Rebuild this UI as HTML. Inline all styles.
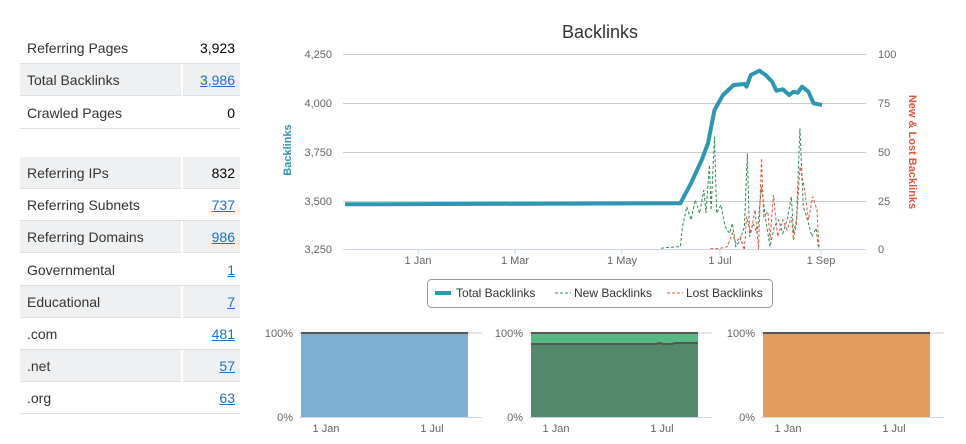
<!DOCTYPE html>
<html><head><meta charset="utf-8"><style>
body{margin:0;width:966px;height:444px;background:#fff;font-family:"Liberation Sans",sans-serif;position:relative;overflow:hidden}
.t{position:absolute;left:20px;width:220px;font-size:14px;color:#333}
.r{position:absolute;left:0;width:220px;height:32px;border-bottom:1px solid #dde0e3;box-sizing:border-box}
.r.g{background:#eef0f2}
.r span{position:absolute;left:7px;top:8px}
.r b{position:absolute;right:5px;top:8px;font-weight:normal;color:#000}
.r b.l{color:#1a6fcf;text-decoration:underline}
.r.g b{border-left:2px solid #fff;height:32px;top:0;line-height:32px;padding-left:0;width:52px;text-align:right}
</style></head><body>
<div class="t">
<div class="r" style="top:32px"><span>Referring Pages</span><b>3,923</b></div>
<div class="r g" style="top:64px"><span>Total Backlinks</span><b class="l">3,986</b></div>
<div class="r" style="top:97px"><span>Crawled Pages</span><b>0</b></div>
<div class="r g" style="top:157px"><span>Referring IPs</span><b>832</b></div>
<div class="r" style="top:189px"><span>Referring Subnets</span><b class="l">737</b></div>
<div class="r g" style="top:221px"><span>Referring Domains</span><b class="l">986</b></div>
<div class="r" style="top:254px"><span>Governmental</span><b class="l">1</b></div>
<div class="r g" style="top:286px"><span>Educational</span><b class="l">7</b></div>
<div class="r" style="top:318px"><span>.com</span><b class="l">481</b></div>
<div class="r g" style="top:350px"><span>.net</span><b class="l">57</b></div>
<div class="r" style="top:382px"><span>.org</span><b class="l">63</b></div>
</div>
<svg width="966" height="444" style="position:absolute;left:0;top:0" font-family="Liberation Sans, sans-serif">
<text x="600" y="38" text-anchor="middle" font-size="18" fill="#333">Backlinks</text>
<g stroke="#ccc" stroke-width="1">
<line x1="343" x2="866" y1="54.5" y2="54.5"/><line x1="343" x2="866" y1="103.5" y2="103.5"/><line x1="343" x2="866" y1="152.5" y2="152.5"/><line x1="343" x2="866" y1="201.5" y2="201.5"/>
</g>
<line x1="343" x2="866" y1="249.5" y2="249.5" stroke="#ccd6eb"/>
<g stroke="#ccd6eb"><line x1="418" x2="418" y1="249" y2="255"/><line x1="515" x2="515" y1="249" y2="255"/><line x1="622" x2="622" y1="249" y2="255"/><line x1="720" x2="720" y1="249" y2="255"/><line x1="821" x2="821" y1="249" y2="255"/></g>
<g font-size="11" fill="#666">
<g text-anchor="end"><text x="332" y="58">4,250</text><text x="332" y="107">4,000</text><text x="332" y="156">3,750</text><text x="332" y="205">3,500</text><text x="332" y="253">3,250</text></g>
<text x="878" y="58">100</text><text x="878" y="107">75</text><text x="878" y="156">50</text><text x="878" y="205">25</text><text x="878" y="253">0</text>
<g text-anchor="middle"><text x="418" y="264">1 Jan</text><text x="515" y="264">1 Mar</text><text x="622" y="264">1 May</text><text x="720" y="264">1 Jul</text><text x="821" y="264">1 Sep</text></g>
</g>
<text transform="translate(291,150) rotate(-90)" text-anchor="middle" font-size="11" font-weight="bold" fill="#2d96b2">Backlinks</text>
<text transform="translate(909,152) rotate(90)" text-anchor="middle" font-size="11" font-weight="bold" fill="#e0573c">New &amp; Lost Backlinks</text>
<g transform="translate(274.7,20) scale(0.427,0.3333)" fill="none">
<polyline vector-effect="non-scaling-stroke" stroke="#2e8b57" stroke-width="1" stroke-dasharray="3,2" points="905,685 915,683 950,680 955,620 965,560 975,600 985,540 995,580 1005,510 1010,580 1018,435 1022,570 1030,350 1035,580 1045,555 1055,620 1065,640 1072,610 1080,680 1090,660 1100,620 1107,400 1112,650 1120,610 1130,640 1140,500 1150,600 1160,680 1170,620 1180,600 1190,640 1200,600 1210,530 1215,640 1222,600 1230,325 1238,560 1248,600 1258,650 1268,625 1274,688"/>
<polyline vector-effect="non-scaling-stroke" stroke="#e0573c" stroke-width="1" stroke-dasharray="3,2" points="1020,686 1040,686 1060,680 1072,640 1080,670 1090,650 1100,690 1105,590 1115,640 1125,570 1133,688 1140,415 1145,590 1155,575 1160,660 1168,525 1178,650 1190,600 1200,630 1210,590 1215,660 1222,610 1230,440 1240,500 1250,600 1260,530 1270,570 1275,688"/>
</g>
<polyline fill="none" stroke="#2d96b2" stroke-width="4" stroke-linejoin="round" points="345,204.3 680.3,203.3 691,183.3 701.7,160 708,143.3 714.5,110 723,95 733.7,85 744.4,84 746.5,86.7 750.8,75 759.3,70.7 765.7,75 772.1,81.7 776.4,90.7 782.8,89.3 789.2,95 793.5,91.7 797.8,92.7 802.1,86.7 808.4,91.7 813.6,103.3 822,105"/>
<rect x="427.5" y="279.5" width="345" height="28" rx="4" fill="#fff" stroke="#999"/>
<line x1="435" x2="451" y1="293" y2="293" stroke="#2d96b2" stroke-width="4"/>
<line x1="555" x2="571" y1="293" y2="293" stroke="#2e8b57" stroke-dasharray="3,2"/>
<line x1="667" x2="683" y1="293" y2="293" stroke="#e0573c" stroke-dasharray="3,2"/>
<g font-size="12" fill="#333"><text x="456" y="297">Total Backlinks</text><text x="574" y="297">New Backlinks</text><text x="686" y="297">Lost Backlinks</text></g>
<g font-size="11" fill="#666">
<rect x="301" y="333" width="167" height="84" fill="#7bafd4"/>
<line x1="299" x2="482" y1="333" y2="333" stroke="#ccc"/><line x1="301" x2="468" y1="333" y2="333" stroke="#555" stroke-width="2"/>
<line x1="299" x2="482" y1="417.5" y2="417.5" stroke="#ccd6eb"/>
<text x="293" y="337" text-anchor="end">100%</text><text x="293" y="421" text-anchor="end">0%</text>
<text x="326" y="432" text-anchor="middle">1 Jan</text><text x="432" y="432" text-anchor="middle">1 Jul</text>

<rect x="531" y="333" width="167" height="84" fill="#57b882"/>
<polygon points="531,344 655,344 660,343 663,344 672,344 675,343 698,343 698,417 531,417" fill="#52896b"/>
<polyline points="531,344 655,344 660,343 663,344 672,344 675,343 698,343" fill="none" stroke="#555" stroke-width="2"/>
<line x1="529" x2="712" y1="333" y2="333" stroke="#ccc"/><line x1="531" x2="698" y1="333" y2="333" stroke="#555" stroke-width="2"/>
<line x1="529" x2="712" y1="417.5" y2="417.5" stroke="#ccd6eb"/>
<text x="523" y="337" text-anchor="end">100%</text><text x="523" y="421" text-anchor="end">0%</text>
<text x="556" y="432" text-anchor="middle">1 Jan</text><text x="662" y="432" text-anchor="middle">1 Jul</text>

<rect x="763" y="333" width="167" height="84" fill="#e39b5e"/>
<line x1="761" x2="944" y1="333" y2="333" stroke="#ccc"/><line x1="763" x2="930" y1="333" y2="333" stroke="#555" stroke-width="2"/>
<line x1="761" x2="944" y1="417.5" y2="417.5" stroke="#ccd6eb"/>
<text x="755" y="337" text-anchor="end">100%</text><text x="755" y="421" text-anchor="end">0%</text>
<text x="788" y="432" text-anchor="middle">1 Jan</text><text x="894" y="432" text-anchor="middle">1 Jul</text>
</g>
</svg>
</body></html>
